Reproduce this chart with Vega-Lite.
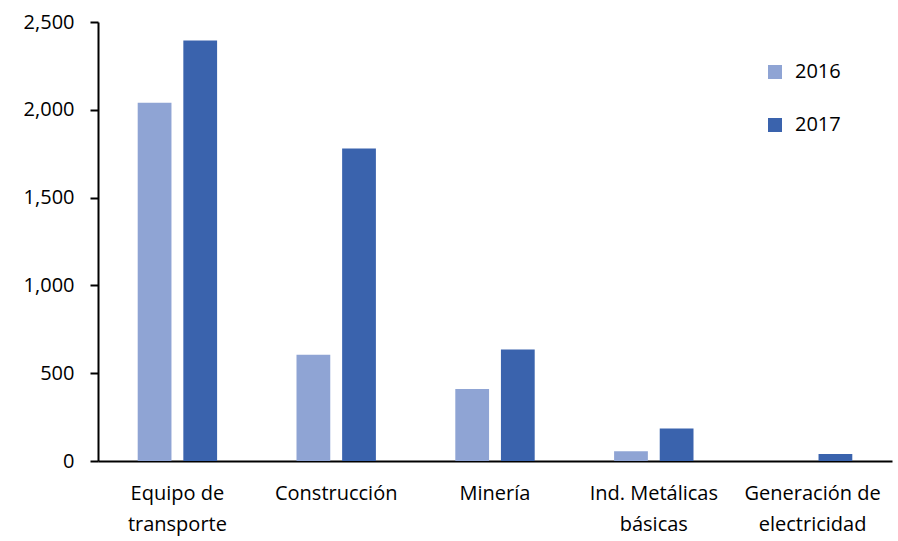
{
  "$schema": "https://vega.github.io/schema/vega-lite/v6.json",
  "autosize": {"type": "none"},
  "width": 794,
  "height": 439,
  "padding": {"left": 98, "top": 22, "right": 6, "bottom": 80},
  "background": "white",
  "config": {
    "font": "Open Sans",
    "view": {"stroke": null}
  },
  "data": {
    "values": [
      {"sector": "Equipo de transporte", "year": "2016", "value": 2040},
      {"sector": "Equipo de transporte", "year": "2017", "value": 2395},
      {"sector": "Construcción", "year": "2016", "value": 605},
      {"sector": "Construcción", "year": "2017", "value": 1780},
      {"sector": "Minería", "year": "2016", "value": 410},
      {"sector": "Minería", "year": "2017", "value": 635},
      {"sector": "Ind. Metálicas básicas", "year": "2016", "value": 55},
      {"sector": "Ind. Metálicas básicas", "year": "2017", "value": 185},
      {"sector": "Generación de electricidad", "year": "2016", "value": 0},
      {"sector": "Generación de electricidad", "year": "2017", "value": 40}
    ]
  },
  "mark": {"type": "bar"},
  "encoding": {
    "x": {
      "field": "sector",
      "type": "nominal",
      "sort": null,
      "scale": {"paddingInner": 0.5, "paddingOuter": 0.25},
      "axis": {
        "title": null,
        "labelAngle": 0,
        "ticks": false,
        "domainColor": "black",
        "domainWidth": 2,
        "labelColor": "black",
        "labelFontSize": 20,
        "labelPadding": 22,
        "labelLineHeight": 31,
        "labelBaseline": "top",
        "labelExpr": "datum.value == 'Equipo de transporte' ? ['Equipo de', 'transporte'] : datum.value == 'Ind. Metálicas básicas' ? ['Ind. Metálicas', 'básicas'] : datum.value == 'Generación de electricidad' ? ['Generación de', 'electricidad'] : datum.value"
      }
    },
    "xOffset": {
      "field": "year",
      "type": "nominal",
      "scale": {"paddingInner": 0.26, "paddingOuter": 0}
    },
    "y": {
      "field": "value",
      "type": "quantitative",
      "scale": {"domain": [0, 2500], "nice": false},
      "axis": {
        "title": null,
        "values": [0, 500, 1000, 1500, 2000, 2500],
        "format": ",d",
        "grid": false,
        "domainColor": "black",
        "domainWidth": 2,
        "tickColor": "black",
        "tickWidth": 2,
        "tickSize": 8,
        "labelColor": "black",
        "labelFontSize": 20,
        "labelPadding": 16
      }
    },
    "color": {
      "field": "year",
      "type": "nominal",
      "scale": {"domain": ["2016", "2017"], "range": ["#8FA4D4", "#3A63AD"]},
      "legend": {
        "title": null,
        "orient": "none",
        "legendX": 667,
        "legendY": 40,
        "symbolType": "square",
        "symbolSize": 196,
        "symbolStrokeWidth": 0,
        "labelFontSize": 20,
        "labelColor": "black",
        "labelOffset": 10,
        "rowPadding": 33
      }
    }
  }
}
